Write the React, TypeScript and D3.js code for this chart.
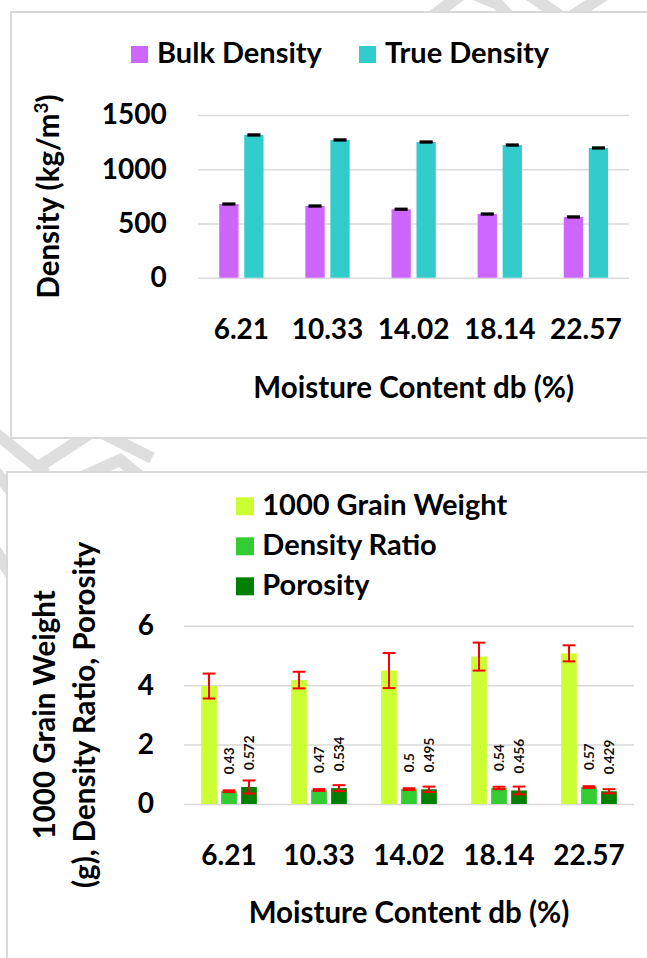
import React, { useEffect, useRef } from 'react';
import * as d3 from 'd3';

const moistureContent = ['6.21', '10.33', '14.02', '18.14', '22.57'];

// top panel: densities (kg/m3)
const bulkDensity = [679, 661, 631, 587, 560];
const bulkDensityErr = [6, 6, 6, 6, 6];
const trueDensity = [1316, 1270, 1251, 1223, 1196];
const trueDensityErr = [6, 6, 6, 6, 6];
const densityTicks = [0, 500, 1000, 1500];

// bottom panel
const grainWeight = [3.97, 4.17, 4.49, 4.96, 5.07];
const grainWeightErr = [0.42, 0.28, 0.59, 0.47, 0.27];
const densityRatio = [0.43, 0.47, 0.5, 0.54, 0.57];
const densityRatioErr = [0.03, 0.03, 0.03, 0.04, 0.03];
const porosity = [0.572, 0.534, 0.495, 0.456, 0.429];
const porosityErr = [0.22, 0.1, 0.09, 0.13, 0.07];
const weightTicks = [0, 2, 4, 6];

const FONT = 'Lato, "Open Sans", sans-serif';
const TICK_SIZE = 28;
const LEGEND_SIZE = 29;
const TITLE_SIZE = 29.5;

interface Series {
  name: string;
  color: string;
  values: number[];
  errors: number[];
  errColor: string;
  showLabels?: boolean;
}

interface Panel {
  series: Series[];
  ticks: number[];
  left: number;
  right: number;
  top: number;
  bottom: number;
  padInner: number;
  padOuter: number;
  tickPadY: number;
  tickPadX: number;
  capWidth: number;
}

type Sel = d3.Selection<SVGGElement, unknown, null, undefined>;

function drawPanel(g: Sel, p: Panel) {
  const x0 = d3.scaleBand().domain(moistureContent).range([p.left, p.right]);
  const x1 = d3
    .scaleBand()
    .domain(p.series.map((s) => s.name))
    .range([0, x0.bandwidth()])
    .paddingInner(p.padInner)
    .paddingOuter(p.padOuter);
  const y = d3
    .scaleLinear()
    .domain([0, p.ticks[p.ticks.length - 1]])
    .range([p.bottom, p.top]);

  const yAxis = d3
    .axisLeft(y)
    .tickValues(p.ticks)
    .tickFormat(d3.format('d'))
    .tickSize(-(p.right - p.left))
    .tickPadding(p.tickPadY);
  const ya = g.append('g').attr('transform', `translate(${p.left},0)`).call(yAxis);
  ya.select('.domain').remove();
  ya.selectAll('line').attr('stroke', '#d9d9d9').attr('stroke-width', 1.5);
  ya.selectAll('text')
    .attr('font-family', FONT)
    .attr('font-size', TICK_SIZE)
    .attr('font-weight', 'bold')
    .attr('fill', '#000');

  const xAxis = d3.axisBottom(x0).tickSize(0).tickPadding(p.tickPadX);
  const xa = g.append('g').attr('transform', `translate(0,${p.bottom})`).call(xAxis);
  xa.select('.domain').remove();
  xa.selectAll('text')
    .attr('font-family', FONT)
    .attr('font-size', TICK_SIZE)
    .attr('font-weight', 'bold')
    .attr('fill', '#000');

  p.series.forEach((s) => {
    const bx = (i: number) => (x0(moistureContent[i]) as number) + (x1(s.name) as number);
    const cx = (i: number) => bx(i) + x1.bandwidth() / 2;

    g.append('g')
      .selectAll('rect')
      .data(s.values)
      .join('rect')
      .attr('x', (_, i) => bx(i))
      .attr('y', (d) => y(d))
      .attr('width', x1.bandwidth())
      .attr('height', (d) => y(0) - y(d))
      .attr('fill', s.color);

    const eb = g.append('g').attr('stroke', s.errColor).attr('stroke-width', 2);
    s.values.forEach((v, i) => {
      const e = s.errors[i];
      const c = cx(i);
      const hw = p.capWidth / 2;
      eb.append('line').attr('x1', c).attr('x2', c).attr('y1', y(v + e)).attr('y2', y(v - e));
      eb.append('line').attr('x1', c - hw).attr('x2', c + hw).attr('y1', y(v + e)).attr('y2', y(v + e));
      eb.append('line').attr('x1', c - hw).attr('x2', c + hw).attr('y1', y(v - e)).attr('y2', y(v - e));
    });

    if (s.showLabels) {
      g.append('g')
        .selectAll('text')
        .data(s.values)
        .join('text')
        .attr('transform', (d, i) => `translate(${cx(i) + 5},${y(d) - 17}) rotate(-90)`)
        .attr('font-family', FONT)
        .attr('font-size', 13.5)
        .attr('font-weight', 'bold')
        .attr('fill', '#111')
        .text((d) => String(d));
    }
  });
}

export default function App() {
  const ref = useRef<SVGSVGElement>(null);

  useEffect(() => {
    const svg = d3.select(ref.current);
    svg.selectAll('*').remove();

    // faint watermark strokes showing around the chart frames
    const wm = svg
      .append('g')
      .attr('stroke', '#dedede')
      .attr('stroke-width', 12)
      .attr('fill', 'none');
    const marks: [number, number][][] = [
      [[425, 22], [462, -6]],
      [[474, -6], [498, 4], [514, 22]],
      [[528, -6], [566, 20], [606, -6]],
      [[-6, 432], [46, 474]],
      [[40, 466], [92, 432]],
      [[104, 434], [152, 458]],
      [[80, 478], [120, 460], [142, 478]],
      [[-6, 470], [12, 492]],
      [[-6, 548], [12, 576]],
    ];
    marks.forEach((m) => wm.append('path').attr('d', d3.line()(m)));

    svg.append('rect')
      .attr('x', 11).attr('y', 12).attr('width', 660).attr('height', 426)
      .attr('fill', '#fff').attr('stroke', '#d9d9d9').attr('stroke-width', 2);
    svg.append('rect')
      .attr('x', 7).attr('y', 472).attr('width', 670).attr('height', 520)
      .attr('fill', '#fff').attr('stroke', '#d9d9d9').attr('stroke-width', 2);

    // ---- top panel
    const top = svg.append('g') as unknown as Sel;
    const topSeries: Series[] = [
      { name: 'Bulk Density', color: '#cc66ff', values: bulkDensity, errors: bulkDensityErr, errColor: '#000' },
      { name: 'True Density', color: '#33cccc', values: trueDensity, errors: trueDensityErr, errColor: '#000' },
    ];
    drawPanel(top, {
      series: topSeries,
      ticks: densityTicks,
      left: 198.3,
      right: 629,
      top: 115,
      bottom: 277.7,
      padInner: 0.228,
      padOuter: 0.836,
      tickPadY: 31.6,
      tickPadX: 41,
      capWidth: 13,
    });
    const topLegendX = [131, 359];
    topSeries.forEach((s, i) => {
      top.append('rect').attr('x', topLegendX[i]).attr('y', 46).attr('width', 17).attr('height', 17).attr('fill', s.color);
      top.append('text')
        .attr('x', topLegendX[i] + 26).attr('y', 63)
        .attr('font-family', FONT).attr('font-size', LEGEND_SIZE).attr('font-weight', 'bold')
        .text(s.name);
    });
    const ty = top.append('text')
      .attr('transform', 'translate(58.5,196.4) rotate(-90)')
      .attr('text-anchor', 'middle')
      .attr('font-family', FONT).attr('font-size', TITLE_SIZE).attr('font-weight', 'bold');
    ty.append('tspan').text('Density (kg/m');
    ty.append('tspan').attr('font-size', 19).attr('dy', -11).text('3');
    ty.append('tspan').attr('dy', 11).text(')');
    top.append('text')
      .attr('x', 413.7).attr('y', 398.3)
      .attr('text-anchor', 'middle')
      .attr('font-family', FONT).attr('font-size', TITLE_SIZE).attr('font-weight', 'bold')
      .text('Moisture Content db (%)');

    // ---- bottom panel
    const bot = svg.append('g') as unknown as Sel;
    const botSeries: Series[] = [
      { name: '1000 Grain Weight', color: '#ccff33', values: grainWeight, errors: grainWeightErr, errColor: '#ff0000' },
      { name: 'Density Ratio', color: '#33cc33', values: densityRatio, errors: densityRatioErr, errColor: '#ff0000', showLabels: true },
      { name: 'Porosity', color: '#008000', values: porosity, errors: porosityErr, errColor: '#ff0000', showLabels: true },
    ];
    drawPanel(bot, {
      series: botSeries,
      ticks: weightTicks,
      left: 184,
      right: 634,
      top: 625.7,
      bottom: 804,
      padInner: 0.215,
      padOuter: 0.8575,
      tickPadY: 30,
      tickPadX: 41.4,
      capWidth: 12.7,
    });
    botSeries.forEach((s, i) => {
      bot.append('rect').attr('x', 236).attr('y', 497.3 + i * 40).attr('width', 18).attr('height', 18).attr('fill', s.color);
      bot.append('text')
        .attr('x', 262.3).attr('y', 515 + i * 40)
        .attr('font-family', FONT).attr('font-size', LEGEND_SIZE).attr('font-weight', 'bold')
        .text(s.name);
    });
    const yLines = [
      { text: '1000 Grain Weight', x: 55 },
      { text: '(g), Density Ratio, Porosity', x: 94.5 },
    ];
    yLines.forEach((l) => {
      bot.append('text')
        .attr('transform', `translate(${l.x},714.8) rotate(-90)`)
        .attr('text-anchor', 'middle')
        .attr('font-family', FONT).attr('font-size', TITLE_SIZE).attr('font-weight', 'bold')
        .text(l.text);
    });
    bot.append('text')
      .attr('x', 409).attr('y', 923.3)
      .attr('text-anchor', 'middle')
      .attr('font-family', FONT).attr('font-size', TITLE_SIZE).attr('font-weight', 'bold')
      .text('Moisture Content db (%)');
  }, []);

  return (
    <svg
      ref={ref}
      width={647}
      height={958}
      style={{ position: 'absolute', left: 0, top: 0, background: '#fff' }}
    />
  );
}
